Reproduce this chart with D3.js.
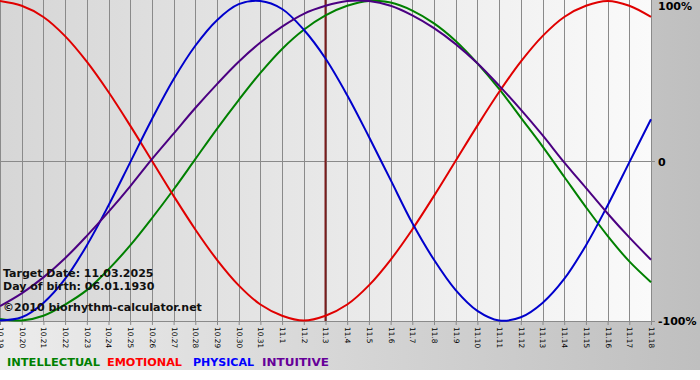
<!DOCTYPE html>
<html>
<head>
<meta charset="utf-8">
<script src="https://cdn.jsdelivr.net/npm/d3@7"></script>
<style>
  body { margin: 0; background: #fff; }
  svg { display: block; }
</style>
</head>
<body>
<div id="chart"></div>
<script>
// days shown on the x axis
var dates = ["10.19", "10.20", "10.21", "10.22", "10.23", "10.24", "10.25", "10.26",
    "10.27", "10.28", "10.29", "10.30", "10.31", "11.1", "11.2", "11.3", "11.4",
    "11.5", "11.6", "11.7", "11.8", "11.9", "11.10", "11.11", "11.12", "11.13",
    "11.14", "11.15", "11.16", "11.17", "11.18"];

// cycle values in percent, one per day
var intellectual = [-99, -100, -97, -90, -81, -68, -53, -36, -18, 1, 20, 38, 55, 70, 82, 91,
    97, 100, 99, 94, 86, 75, 61, 45, 27, 9, -10, -29, -47, -63, -76];
var emotional = [100, 97, 90, 78, 62, 43, 22, 0, -22, -43, -62, -78, -90, -97, -100, -97,
    -90, -78, -62, -43, -22, 0, 22, 43, 62, 78, 90, 97, 100, 97, 90];
var physical = [-100, -98, -89, -74, -53, -28, -1, 26, 51, 72, 88, 98, 100, 95, 82, 64,
    41, 15, -12, -39, -62, -81, -94, -100, -98, -89, -74, -53, -28, -1, 26];
var intuitive = [-91, -83, -73, -61, -47, -32, -16, 1, 17, 33, 48, 62, 74, 84, 92, 97,
    100, 100, 97, 91, 83, 73, 61, 47, 32, 16, -1, -17, -33, -48, -62];

var yTicks = [100, 0, -100];
var yTickLabels = ["100%", "0", "-100%"];
var targetDay = "11.3";

var seriesNames = ["INTELLECTUAL", "EMOTIONAL", "PHYSICAL", "INTUITIVE"];
var seriesColors = ["#008000", "#e00000", "#0000cc", "#4b0082"];
var legendColors = ["#008000", "#ff0000", "#0000ff", "#660099"];

var width = 700, height = 380,
    plotW = 651, plotH = 321;

var svg = d3.select("#chart")
    .append("svg")
    .attr("width", width)
    .attr("height", height);

var defs = svg.append("defs");

var outerGrad = defs.append("linearGradient").attr("id", "outerGrad");
outerGrad.append("stop").attr("offset", "0%").attr("stop-color", "#ececec");
outerGrad.append("stop").attr("offset", "100%").attr("stop-color", "#bfbfbf");

var plotGrad = defs.append("linearGradient").attr("id", "plotGrad");
plotGrad.append("stop").attr("offset", "0%").attr("stop-color", "#d6d6d6");
plotGrad.append("stop").attr("offset", "100%").attr("stop-color", "#fafafa");

// backgrounds
svg.append("rect")
    .attr("width", width)
    .attr("height", 370)
    .attr("fill", "url(#outerGrad)");

svg.append("rect")
    .attr("width", plotW)
    .attr("height", plotH)
    .attr("fill", "url(#plotGrad)");

// scales
var x = d3.scalePoint().domain(dates).range([0, plotW]);
var y = d3.scaleLinear().domain([-100, 100]).range([plotH - 0.5, 1]);

// vertical grid
svg.append("g")
    .selectAll("line")
    .data(dates)
    .enter()
    .append("line")
    .attr("x1", function (d) { return Math.round(x(d)) + 0.5; })
    .attr("x2", function (d) { return Math.round(x(d)) + 0.5; })
    .attr("y1", 0)
    .attr("y2", plotH)
    .attr("stroke", "#8a8a8a")
    .attr("stroke-width", 1);

// zero line and bottom border
svg.append("line")
    .attr("x1", 0).attr("x2", plotW + 4)
    .attr("y1", Math.round(y(0)) + 0.5).attr("y2", Math.round(y(0)) + 0.5)
    .attr("stroke", "#8a8a8a");

svg.append("line")
    .attr("x1", 0).attr("x2", plotW + 4)
    .attr("y1", plotH + 0.5).attr("y2", plotH + 0.5)
    .attr("stroke", "#8a8a8a");

// x axis
var xAxis = svg.append("g")
    .attr("class", "axis axis--x")
    .attr("transform", "translate(0," + plotH + ")")
    .call(d3.axisBottom(x).tickSize(4));

xAxis.select(".domain").remove();
xAxis.selectAll(".tick line").attr("stroke", "#8a8a8a");
xAxis.selectAll(".tick text")
    .attr("y", 0)
    .attr("x", 6)
    .attr("dy", "0.35em")
    .attr("transform", "rotate(90)")
    .style("text-anchor", "start")
    .attr("font-family", "DejaVu Sans, Verdana, sans-serif")
    .attr("font-size", "7.4px")
    .attr("fill", "#000");

// y labels on the right
svg.selectAll(".ylab")
    .data(yTicks)
    .enter()
    .append("text")
    .attr("class", "ylab")
    .attr("x", 658)
    .attr("y", function (d) { return y(d); })
    .attr("dy", function (d, i) { return i === 0 ? "0.85em" : "0.45em"; })
    .text(function (d, i) { return yTickLabels[i]; })
    .attr("font-family", "DejaVu Sans, Verdana, sans-serif")
    .attr("font-weight", "bold")
    .attr("font-size", "11px")
    .attr("fill", "#000");

// target date marker
svg.append("line")
    .attr("x1", x(targetDay)).attr("x2", x(targetDay))
    .attr("y1", 0).attr("y2", plotH)
    .attr("stroke", "#7a1c1c")
    .attr("stroke-width", 2);

// curves
var allSeries = [intellectual, emotional, physical, intuitive];

var line = d3.line()
    .x(function (d, i) { return x(dates[i]); })
    .y(function (d) { return y(d); })
    .curve(d3.curveCatmullRom);

svg.append("g")
    .selectAll("path")
    .data(allSeries)
    .enter()
    .append("path")
    .attr("d", line)
    .attr("fill", "none")
    .attr("stroke", function (d, i) { return seriesColors[i]; })
    .attr("stroke-width", 2);

// info text
var info = ["Target Date: 11.03.2025", "Day of birth: 06.01.1930", "\u00a92010 biorhythm-calculator.net"];
var infoY = [277, 290, 311];

svg.selectAll(".info")
    .data(info)
    .enter()
    .append("text")
    .attr("class", "info")
    .attr("x", 3)
    .attr("y", function (d, i) { return infoY[i]; })
    .text(function (d) { return d; })
    .attr("font-family", "DejaVu Sans, Verdana, sans-serif")
    .attr("font-weight", "bold")
    .attr("font-size", "11px")
    .attr("fill", "#111");

// legend
var legendX = [7, 107, 193, 262];
var legendW = [93, 75, 61, 67];

svg.selectAll(".legend")
    .data(seriesNames)
    .enter()
    .append("text")
    .attr("class", "legend")
    .attr("x", function (d, i) { return legendX[i]; })
    .attr("y", 366)
    .attr("textLength", function (d, i) { return legendW[i]; })
    .attr("lengthAdjust", "spacingAndGlyphs")
    .text(function (d) { return d; })
    .attr("font-family", "DejaVu Sans, Verdana, sans-serif")
    .attr("font-weight", "bold")
    .attr("font-size", "11px")
    .attr("fill", function (d, i) { return legendColors[i]; });
</script>
</body>
</html>
